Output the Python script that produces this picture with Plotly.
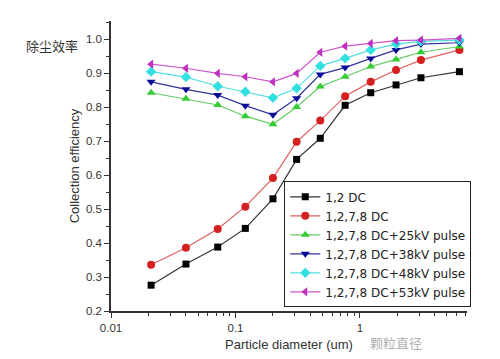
import plotly.graph_objects as go

diameter = [0.021, 0.040, 0.072, 0.12, 0.20, 0.31, 0.48, 0.76, 1.22, 1.95, 3.09, 6.3]

dc_12 = [0.276, 0.338, 0.388, 0.443, 0.530, 0.646, 0.708, 0.805, 0.842, 0.865, 0.886, 0.904]
dc_1278 = [0.336, 0.386, 0.441, 0.507, 0.591, 0.698, 0.760, 0.832, 0.874, 0.909, 0.938, 0.968]
p25 = [0.842, 0.824, 0.806, 0.773, 0.749, 0.800, 0.860, 0.889, 0.919, 0.940, 0.961, 0.978]
p38 = [0.874, 0.852, 0.835, 0.804, 0.777, 0.826, 0.896, 0.916, 0.943, 0.968, 0.985, 0.989]
p48 = [0.904, 0.888, 0.861, 0.845, 0.827, 0.855, 0.921, 0.943, 0.968, 0.985, 0.993, 0.997]
p53 = [0.926, 0.914, 0.899, 0.889, 0.874, 0.899, 0.961, 0.979, 0.987, 0.995, 0.997, 1.002]

names = ["1,2 DC", "1,2,7,8 DC", "1,2,7,8 DC+25kV pulse", "1,2,7,8 DC+38kV pulse",
         "1,2,7,8 DC+48kV pulse", "1,2,7,8 DC+53kV pulse"]
series = [dc_12, dc_1278, p25, p38, p48, p53]
line_colors = ["#333333", "#e06060", "#66cc66", "#333399", "#55dddd", "#cc55cc"]
marker_colors = ["#000000", "#d42020", "#33cc33", "#0a0a99", "#33e0e0", "#c030c0"]
symbols = ["square", "circle", "triangle-up", "triangle-down", "diamond", "triangle-left"]

x_tickvals = [0.01, 0.1, 1]
x_ticktext = ["0.01", "0.1", "1"]
x_minor = [0.02, 0.03, 0.04, 0.05, 0.06, 0.07, 0.08, 0.09,
           0.2, 0.3, 0.4, 0.5, 0.6, 0.7, 0.8, 0.9,
           2, 3, 4, 5, 6, 7]
y_tickvals = [0.2, 0.3, 0.4, 0.5, 0.6, 0.7, 0.8, 0.9, 1.0]
y_ticktext = ["0.2", "0.3", "0.4", "0.5", "0.6", "0.7", "0.8", "0.9", "1.0"]
y_minor = [0.25, 0.35, 0.45, 0.55, 0.65, 0.75, 0.85, 0.95, 1.05]

fig = go.Figure()
for name, ys, lc, mc, sym in zip(names, series, line_colors, marker_colors, symbols):
    fig.add_trace(go.Scatter(
        x=diameter, y=ys, name=name, mode="lines+markers",
        line=dict(color=lc, width=1.2),
        marker=dict(symbol=sym, size=8 if sym != "square" else 7, color=mc,
                    line=dict(width=0)),
    ))

fnt = "Liberation Sans, Arial, sans-serif"
fig.update_layout(
    width=500, height=359,
    margin=dict(l=111, r=33, t=21, b=48, autoexpand=False),
    paper_bgcolor="white", plot_bgcolor="white",
    font=dict(family=fnt, color="#333333", size=11.5),
    showlegend=True,
    legend=dict(
        x=1.012, y=0.447, xanchor="right", yanchor="top",
        bgcolor="white", bordercolor="#222222", borderwidth=1,
        font=dict(family="DejaVu Sans, sans-serif", size=12, color="#222222"),
        tracegroupgap=0, itemwidth=30,
    ),
    xaxis=dict(
        type="log", range=[-2, 0.86],
        tickvals=x_tickvals, ticktext=x_ticktext,
        ticks="outside", ticklen=5, tickcolor="#333333",
        minor=dict(tickvals=x_minor, ticks="outside", ticklen=3, tickcolor="#333333"),
        showline=True, linecolor="#333333", linewidth=1.5,
        showgrid=False, zeroline=False,
        title=dict(text="Particle diameter (um)", font=dict(size=13, color="#333333"), standoff=7),
    ),
    yaxis=dict(
        range=[0.2, 1.053],
        tickvals=y_tickvals, ticktext=y_ticktext,
        ticks="outside", ticklen=5, tickcolor="#333333",
        minor=dict(tickvals=y_minor, ticks="outside", ticklen=3, tickcolor="#333333"),
        showline=True, linecolor="#333333", linewidth=1.5,
        showgrid=False, zeroline=False,
        title=dict(text="Collection efficiency", font=dict(size=13, color="#333333"), standoff=3),
    ),
    annotations=[
        dict(text="除尘效率", xref="paper", yref="paper", x=-0.166, y=0.914,
             xanchor="center", yanchor="middle", showarrow=False,
             font=dict(family="Noto Sans CJK SC", size=13, color="#333333")),
        dict(text="颗粒直径", xref="paper", yref="paper", x=0.80, y=-0.107,
             xanchor="center", yanchor="middle", showarrow=False,
             font=dict(family="Noto Sans CJK SC", size=13, color="#b0b0b0")),
    ],
)

fig.write_html("out.html", config={"displayModeBar": False},
               post_script="document.body.style.margin='0';document.body.style.overflow='hidden';")
